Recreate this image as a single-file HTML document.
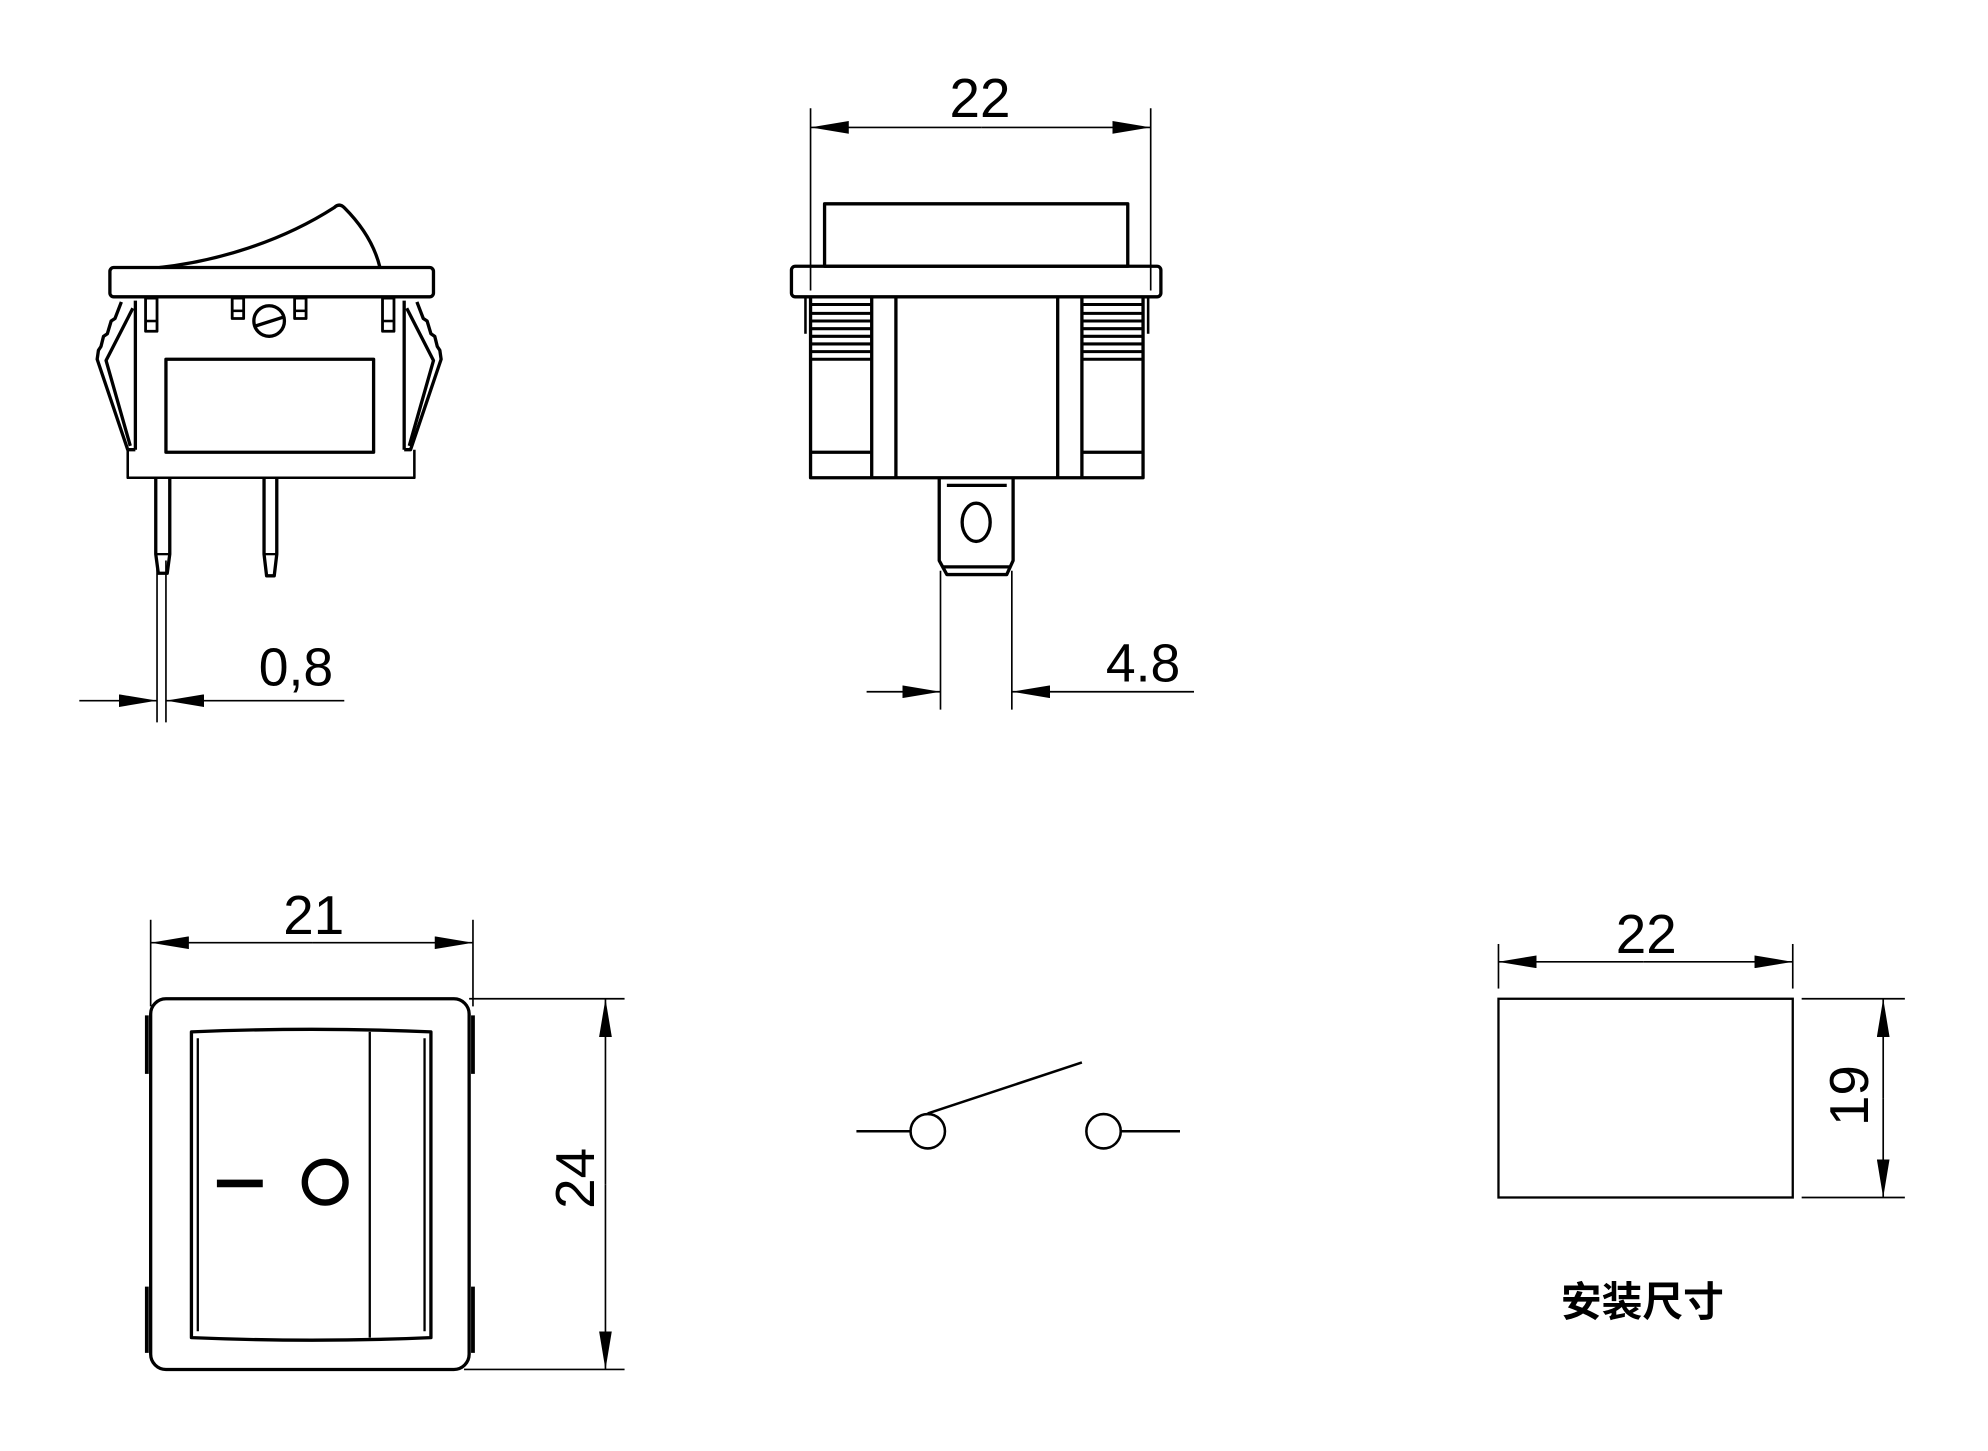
<!DOCTYPE html>
<html><head><meta charset="utf-8"><style>
html,body{margin:0;padding:0;background:#fff}
svg{display:block}
text{font-family:"Liberation Sans","Noto Sans CJK SC",sans-serif}
</style></head><body>
<svg width="1988" height="1451" viewBox="0 0 1560 1139" xmlns="http://www.w3.org/2000/svg">
<defs>
<marker id="a" viewBox="0 0 30 10" refX="30" refY="5" markerWidth="30" markerHeight="10" markerUnits="userSpaceOnUse" orient="auto-start-reverse">
<path d="M0,0 L30,5 L0,10 z" fill="#000"/>
</marker>
</defs>
<rect width="1560" height="1139" fill="#fff"/>
<g fill="none" stroke="#000" stroke-width="2.6" stroke-linejoin="round">
<path d="M125,210 C170,205 220,190 262,163 Q266,159 270,163 Q292,185 298,210"/>
<rect x="86" y="210" width="254" height="23" rx="3"/>
<line x1="106" y1="236" x2="106" y2="353"/>
<line x1="317" y1="236" x2="317" y2="353"/>
<path d="M100,353 L100,375 L325,375 L325,353" stroke-width="2"/>
<path d="M95,237 L90,250 L87,252 L84,262 L81,264 L79,272 L77,275 L76,282 L100,353 L106,353"/>
<path d="M104,242 L83,283 L102,350"/>
<path d="M327,237 L332,250 L335,252 L338,262 L341,264 L343,272 L345,275 L346,282 L322,353 L317,353"/>
<path d="M319,242 L340,283 L321,350"/>
<rect x="114" y="234" width="9" height="26" stroke-width="2.2"/>
<line x1="114" y1="252" x2="123" y2="252" stroke-width="2"/>
<rect x="182" y="234" width="9" height="16" stroke-width="2.2"/>
<line x1="182" y1="244" x2="191" y2="244" stroke-width="2"/>
<rect x="231" y="234" width="9" height="16" stroke-width="2.2"/>
<line x1="231" y1="244" x2="240" y2="244" stroke-width="2"/>
<rect x="300" y="234" width="9" height="26" stroke-width="2.2"/>
<line x1="300" y1="252" x2="309" y2="252" stroke-width="2"/>
<circle cx="211" cy="252" r="12"/>
<line x1="200" y1="256" x2="222" y2="249"/>
<rect x="130" y="282" width="163" height="73"/>
<path d="M122,375 L122,435 L124,450 L131,450 L133,435 L133,375"/>
<line x1="122" y1="435" x2="133" y2="435" stroke-width="1.8"/>
<path d="M207,375 L207,435 L209,452 L215,452 L217,435 L217,375"/>
<line x1="207" y1="435" x2="217" y2="435" stroke-width="1.8"/>
</g>
<g fill="none" stroke="#000" stroke-width="1.3">
<line x1="123" y1="440" x2="123" y2="567"/>
<line x1="130" y1="440" x2="130" y2="567"/>
<line x1="62" y1="550" x2="123" y2="550" marker-end="url(#a)"/>
<line x1="270" y1="550" x2="130" y2="550" marker-end="url(#a)"/>
</g>
<text x="232" y="538" font-size="42" text-anchor="middle" fill="#000">0,8</text>

<g fill="none" stroke="#000" stroke-width="2.6" stroke-linejoin="round">
<rect x="647" y="160" width="238" height="49"/>
<rect x="621" y="209" width="290" height="24" rx="3"/>
<path d="M636,233 L636,375 L897,375 L897,233"/>
<line x1="632" y1="233" x2="632" y2="262" stroke-width="2"/>
<line x1="901" y1="233" x2="901" y2="262" stroke-width="2"/>
<line x1="684" y1="233" x2="684" y2="375"/>
<line x1="703" y1="233" x2="703" y2="375"/>
<line x1="830" y1="233" x2="830" y2="375"/>
<line x1="849" y1="233" x2="849" y2="375"/>
<line x1="636" y1="355" x2="684" y2="355"/>
<line x1="849" y1="355" x2="897" y2="355"/>
<path d="M737,375 L737,440 L743,451 L790,451 L795,440 L795,375"/>
<line x1="743" y1="381" x2="790" y2="381"/>
<line x1="740" y1="445" x2="792" y2="445"/>
<ellipse cx="766" cy="410" rx="11" ry="15"/>
</g>
<g stroke="#000" stroke-width="2.4">
<line x1="636" y1="239" x2="684" y2="239"/><line x1="636" y1="246" x2="684" y2="246"/>
<line x1="636" y1="252" x2="684" y2="252"/><line x1="636" y1="258" x2="684" y2="258"/>
<line x1="636" y1="264" x2="684" y2="264"/><line x1="636" y1="270" x2="684" y2="270"/>
<line x1="636" y1="276" x2="684" y2="276"/><line x1="636" y1="282" x2="684" y2="282"/>
<line x1="849" y1="239" x2="897" y2="239"/><line x1="849" y1="246" x2="897" y2="246"/>
<line x1="849" y1="252" x2="897" y2="252"/><line x1="849" y1="258" x2="897" y2="258"/>
<line x1="849" y1="264" x2="897" y2="264"/><line x1="849" y1="270" x2="897" y2="270"/>
<line x1="849" y1="276" x2="897" y2="276"/><line x1="849" y1="282" x2="897" y2="282"/>
</g>
<g fill="none" stroke="#000" stroke-width="1.3">
<line x1="636" y1="85" x2="636" y2="228"/>
<line x1="903" y1="85" x2="903" y2="228"/>
<line x1="770" y1="100" x2="636" y2="100" marker-end="url(#a)"/>
<line x1="770" y1="100" x2="903" y2="100" marker-end="url(#a)"/>
<line x1="738" y1="448" x2="738" y2="557"/>
<line x1="794" y1="448" x2="794" y2="557"/>
<line x1="680" y1="543" x2="738" y2="543" marker-end="url(#a)"/>
<line x1="937" y1="543" x2="794" y2="543" marker-end="url(#a)"/>
</g>
<text x="769" y="92" font-size="43" text-anchor="middle" fill="#000">22</text>
<text x="897" y="535" font-size="42" text-anchor="middle" fill="#000">4.8</text>

<g fill="none" stroke="#000" stroke-width="2.6" stroke-linejoin="round">
<rect x="118" y="784" width="250" height="291" rx="12"/>
<path d="M115,797 L115,843 M115,1010 L115,1062 M371,797 L371,843 M371,1010 L371,1062" stroke-width="3"/>
<path d="M150,810 Q245,806 338,810 L338,1050 Q245,1054 150,1050 Z"/>
<path d="M155,815 L155,1045 M333,815 L333,1045" stroke-width="1.8"/>
<line x1="290" y1="810" x2="290" y2="1050" stroke-width="1.8"/>
<line x1="170" y1="929" x2="206" y2="929" stroke-width="6"/>
<circle cx="255" cy="928" r="16" stroke-width="5"/>
</g>
<g fill="none" stroke="#000" stroke-width="1.3">
<line x1="118" y1="722" x2="118" y2="790"/>
<line x1="371" y1="722" x2="371" y2="790"/>
<line x1="245" y1="740" x2="118" y2="740" marker-end="url(#a)"/>
<line x1="245" y1="740" x2="371" y2="740" marker-end="url(#a)"/>
<line x1="368" y1="784" x2="490" y2="784"/>
<line x1="364" y1="1075" x2="490" y2="1075"/>
<line x1="475" y1="930" x2="475" y2="784" marker-end="url(#a)"/>
<line x1="475" y1="930" x2="475" y2="1075" marker-end="url(#a)"/>
</g>
<text x="246" y="733" font-size="43" text-anchor="middle" fill="#000">21</text>
<text x="0" y="0" font-size="43" text-anchor="middle" fill="#000" transform="translate(466,925) rotate(-90)">24</text>

<g fill="none" stroke="#000" stroke-width="2">
<line x1="672" y1="888" x2="714" y2="888"/>
<circle cx="728" cy="888" r="13.5"/>
<line x1="728" y1="874" x2="849" y2="834"/>
<circle cx="866" cy="888" r="13.5"/>
<line x1="880" y1="888" x2="926" y2="888"/>
</g>

<g fill="none" stroke="#000" stroke-width="1.8">
<rect x="1176" y="784" width="231" height="156"/>
</g>
<g fill="none" stroke="#000" stroke-width="1.3">
<line x1="1176" y1="741" x2="1176" y2="776"/>
<line x1="1407" y1="741" x2="1407" y2="776"/>
<line x1="1290" y1="755" x2="1176" y2="755" marker-end="url(#a)"/>
<line x1="1290" y1="755" x2="1407" y2="755" marker-end="url(#a)"/>
<line x1="1414" y1="784" x2="1495" y2="784"/>
<line x1="1414" y1="940" x2="1495" y2="940"/>
<line x1="1478" y1="862" x2="1478" y2="784" marker-end="url(#a)"/>
<line x1="1478" y1="862" x2="1478" y2="940" marker-end="url(#a)"/>
</g>
<text x="1292" y="748" font-size="43" text-anchor="middle" fill="#000">22</text>
<text x="0" y="0" font-size="43" text-anchor="middle" fill="#000" transform="translate(1466,860) rotate(-90)">19</text>
<text x="1289" y="1033" font-size="32" font-weight="bold" text-anchor="middle" fill="#000" font-family="'Noto Sans CJK SC',sans-serif">安装尺寸</text>
</svg>
</body></html>
